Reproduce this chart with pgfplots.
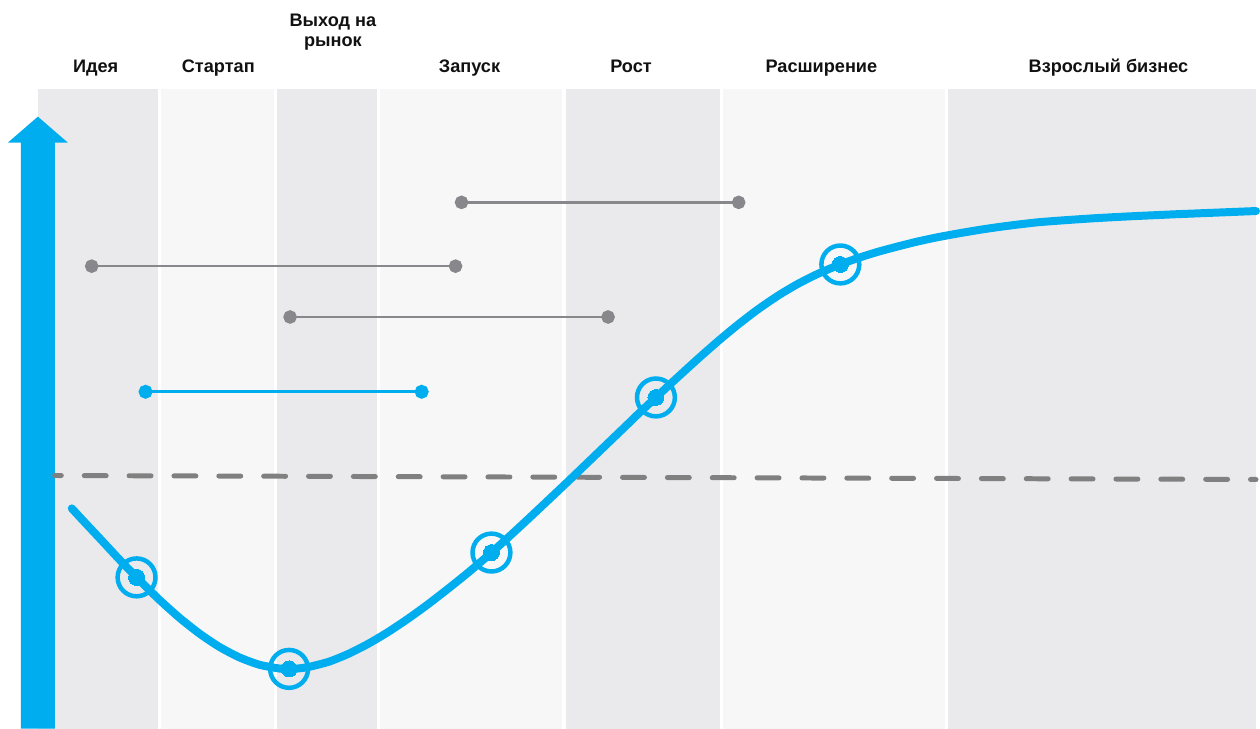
\documentclass[border=0pt]{standalone}
\usepackage{pgfplots}
\pgfplotsset{compat=1.18}
\usepackage{fontspec}
\setmainfont{Liberation Sans}
\definecolor{cblue}{HTML}{00AEEF}
\definecolor{bdark}{HTML}{EAEAEC}
\definecolor{blight}{HTML}{F7F7F7}
\definecolor{dgray}{HTML}{808080}
\definecolor{sgray}{HTML}{88888C}
\definecolor{txt}{HTML}{111111}
\begin{document}
\begin{tikzpicture}
\begin{axis}[
  scale only axis, width=1260pt, height=731pt,
  xmin=0, xmax=1260, ymin=0, ymax=731, y dir=reverse,
  hide axis, clip=false,
]
% background
\addplot[fill=white, draw=none] coordinates {(0,0)(1260,0)(1260,731)(0,731)} --cycle;
% bands
\addplot[fill=bdark, draw=none] coordinates {(38,89)(158,89)(158,731)(38,731)} --cycle;
\addplot[fill=blight, draw=none] coordinates {(162,89)(275,89)(275,731)(162,731)} --cycle;
\addplot[fill=bdark, draw=none] coordinates {(278,89)(378,89)(378,731)(278,731)} --cycle;
\addplot[fill=blight, draw=none] coordinates {(381,89)(564,89)(564,731)(381,731)} --cycle;
\addplot[fill=bdark, draw=none] coordinates {(568,89)(722,89)(722,731)(568,731)} --cycle;
\addplot[fill=blight, draw=none] coordinates {(725,89)(948,89)(948,731)(725,731)} --cycle;
\addplot[fill=bdark, draw=none] coordinates {(951,89)(1260,89)(1260,731)(951,731)} --cycle;
% arrow
\addplot[fill=cblue, draw=none] coordinates {(21,731)(21,143)(8,143)(38,117)(68,143)(55,143)(55,731)} --cycle;
% dashed level
\addplot[dgray, line width=5pt, line cap=round, dash pattern=on 22pt off 23pt, dash phase=15.5pt] coordinates {(55,477)(1260,481)};
% horizontal segments
\addplot[sgray, line width=2.6pt, mark=*, mark size=5.5pt, mark options={fill=sgray, draw=sgray}] coordinates {(463,203)(741,203)};
\addplot[sgray, line width=2.6pt, mark=*, mark size=5.5pt, mark options={fill=sgray, draw=sgray}] coordinates {(92,267)(457,267)};
\addplot[sgray, line width=2.6pt, mark=*, mark size=5.5pt, mark options={fill=sgray, draw=sgray}] coordinates {(291,318)(610,318)};
\addplot[cblue, line width=3pt, mark=*, mark size=5.5pt, mark options={fill=cblue, draw=cblue}] coordinates {(146,393)(423,393)};
% curve
\addplot[cblue, line width=8pt, smooth, tension=0.4, line cap=round] coordinates {
(72,510)(86,525.1)(100,540)(120,561.5)(140,582.2)(160,601.8)(180,619.7)(200,635.5)(220,648.9)(240,659.4)(260,666.8)(280,670.6)(290,671)
(300,670.5)(310,669)(330,663.8)(350,655.7)(370,645.5)(390,633.6)(410,620.2)(430,605.7)(450,590.2)(470,574.1)(490,557)(510,539)(530,520.5)(550,501.7)(570,482.8)(590,463.6)(610,444.4)(630,425.2)
(640,415.5)(660,396.8)(680,378.3)(700,360.1)(720,342.5)(740,325.9)(760,310.6)(780,296.9)(800,285)(820,274.9)(840,266.4)(860,259.1)(880,252.8)(900,247.4)(920,242.4)(940,238.1)(960,234.4)(980,231)(1000,228)(1020,225.4)(1040,223.1)(1060,221.5)(1080,220.1)(1100,218.8)(1120,217.7)(1140,216.7)(1160,215.8)(1180,214.9)(1200,214.1)(1220,213.3)(1240,212.5)(1260,211.7)};
% markers
\addplot[cblue, only marks, mark=o, mark size=19pt, mark options={draw=cblue, line width=4.5pt}] coordinates {(137,579.2)(290,671)(493,554.3)(658,398.7)(843,265.3)};
\addplot[cblue, only marks, mark=*, mark size=8pt, mark options={fill=cblue, draw=cblue, line width=0pt}] coordinates {(137,579.2)(290,671)(493,554.3)(658,398.7)(843,265.3)};
% labels
\begin{scope}[every node/.style={anchor=base, text=txt, font=\fontsize{18.2pt}{21pt}\selectfont\bfseries, inner sep=0pt}]
\node at (axis cs:96,73) {Идея};
\node at (axis cs:219,73) {Стартап};
\node at (axis cs:334,27) {Выход на};
\node at (axis cs:334,47) {рынок};
\node at (axis cs:471,73) {Запуск};
\node at (axis cs:633,73) {Рост};
\node at (axis cs:824,73) {Расширение};
\node at (axis cs:1112,73) {Взрослый бизнес};
\end{scope}
\end{axis}
\end{tikzpicture}
\end{document}
